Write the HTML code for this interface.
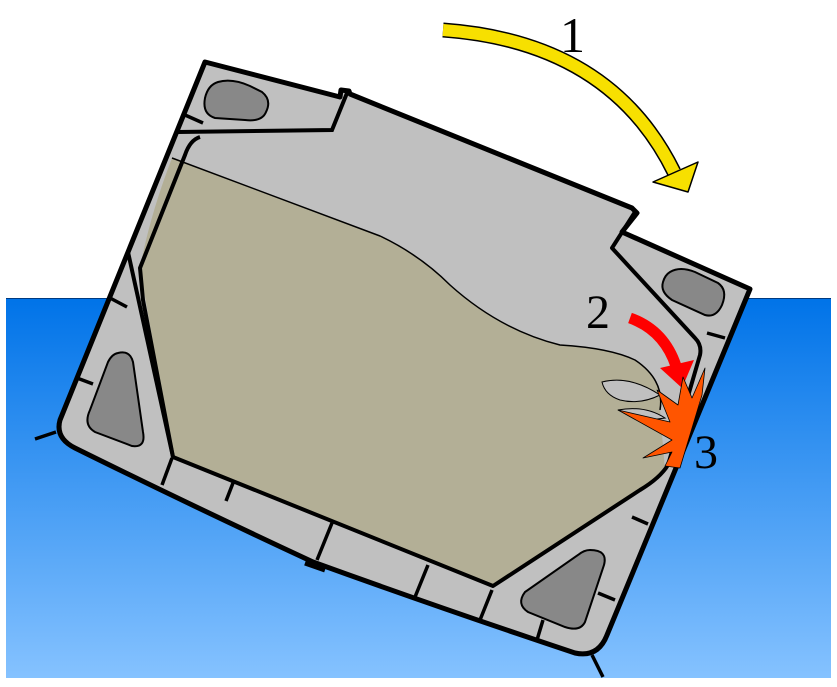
<!DOCTYPE html>
<html><head><style>html,body{margin:0;padding:0;background:#fff}svg{display:block}</style></head><body>
<svg width="837" height="687" viewBox="0 0 837 687" xmlns="http://www.w3.org/2000/svg">
<defs>
<linearGradient id="w" x1="0" y1="0" x2="0" y2="1">
<stop offset="0" stop-color="#0073e8"/><stop offset="1" stop-color="#85c2ff"/>
</linearGradient>
</defs>
<rect x="6" y="298" width="825" height="380" fill="url(#w)"/>
<line x1="6" y1="298.5" x2="831" y2="298.5" stroke="#003a80" stroke-width="1"/>
<path d="M205,62 L340,97 L341,90 L349,91 L350,94 L632,208 L637,213 L622,232 L750,289 L607,635 Q598,658 575,653 Q440,608 313,562 Q180,500 75,448 Q55,438 60,420 Z" fill="#c0c0c0" stroke="#000" stroke-width="5" stroke-linejoin="round"/>
<path d="M172,158 L380,236 Q420,255 450,285 Q500,330 560,345 Q610,348 635,360 Q665,380 660,410 L665,470 L640,492 L493,586 L173,457 L140,268 Q150,215 172,158 Z" fill="#b3af96"/>
<path d="M172,158 L380,236 Q420,255 450,285 Q500,330 560,345 Q610,348 635,360 Q665,380 660,410" fill="none" stroke="#000" stroke-width="1.5"/>
<path d="M602,382 Q630,375 660,395 Q640,405 620,400 Q605,395 602,382 Z" fill="#c0c0c0" stroke="#000" stroke-width="1"/>
<path d="M618,410 Q645,405 665,418 L650,420 Z" fill="#c0c0c0" stroke="#000" stroke-width="1"/>
<path d="M178,132 L332,130 L347,93" fill="none" stroke="#000" stroke-width="4"/>
<path d="M200,137 Q190,140 185,155 L140,268 L143,300 L173,457 L493,586 L640,490 Q660,478 668,465 L700,355 Q702,345 695,338 L612,248 L635,212" fill="none" stroke="#000" stroke-width="4" stroke-linejoin="round"/>
<line x1="128" y1="252" x2="173" y2="457" stroke="#000" stroke-width="4"/>
<path d="M218,82 Q232,78 250,86 L262,92 Q272,100 266,112 Q262,122 245,120 L215,118 Q202,114 205,98 Q208,85 218,82 Z" fill="#888" stroke="#000" stroke-width="2"/>
<path d="M118,353 Q130,350 133,362 L143,432 Q146,448 132,446 L95,432 Q83,425 90,410 L108,362 Q112,354 118,353 Z" fill="#888" stroke="#000" stroke-width="2"/>
<path d="M590,550 Q608,550 604,565 L585,622 Q580,632 565,627 L528,612 Q516,604 525,592 L578,555 Q584,550 590,550 Z" fill="#888" stroke="#000" stroke-width="2"/>
<path d="M670,272 Q680,266 695,272 L718,283 Q728,290 722,305 Q716,318 705,315 L672,300 Q660,292 663,282 Q665,275 670,272 Z" fill="#888" stroke="#000" stroke-width="2"/>
<g stroke="#000" stroke-width="3.5">
<line x1="172" y1="458" x2="162" y2="485"/><line x1="233" y1="483" x2="226" y2="501"/>
<line x1="332" y1="523" x2="317" y2="560"/><line x1="428" y1="565" x2="415" y2="597"/>
<line x1="492" y1="590" x2="480" y2="620"/><line x1="543" y1="620" x2="537" y2="640"/>
<line x1="35" y1="439" x2="56" y2="432"/><line x1="77" y1="378" x2="93" y2="384"/>
<line x1="110" y1="298" x2="127" y2="307"/><line x1="185" y1="115" x2="203" y2="123"/>
<line x1="632" y1="517" x2="648" y2="524"/><line x1="598" y1="593" x2="615" y2="600"/>
<line x1="592" y1="655" x2="603" y2="677"/><line x1="707" y1="333" x2="725" y2="338"/>
<line x1="305" y1="563" x2="325" y2="570" stroke-width="5"/>
</g>
<path d="M443,30 Q610,42 674,172" fill="none" stroke="#000" stroke-width="15"/>
<path d="M443,30 Q610,42 674,172" fill="none" stroke="#f7e000" stroke-width="12"/>
<path d="M653,182 L698,162 L688,192 Z" fill="#f7e000" stroke="#000" stroke-width="1.5" stroke-linejoin="round"/>
<path d="M630,318 Q664,330 676,366" fill="none" stroke="#f00" stroke-width="11"/>
<path d="M660,368 L694,360 L682,388 Z" fill="#f00"/>
<path d="M683,377 L692,398 L705,368 L702,395 L680,468 L665,466 L672,452 L643,458 L672,440 L618,410 L670,422 L657,390 L678,405 Z" fill="#ff5500" stroke="#000" stroke-width="0.8" stroke-linejoin="round"/>
<g font-family="Liberation Serif, serif" fill="#000">
<text x="560" y="52" font-size="50">1</text>
<text x="586" y="328" font-size="48">2</text>
<text x="694" y="468" font-size="48">3</text>
</g>
</svg>
</body></html>
